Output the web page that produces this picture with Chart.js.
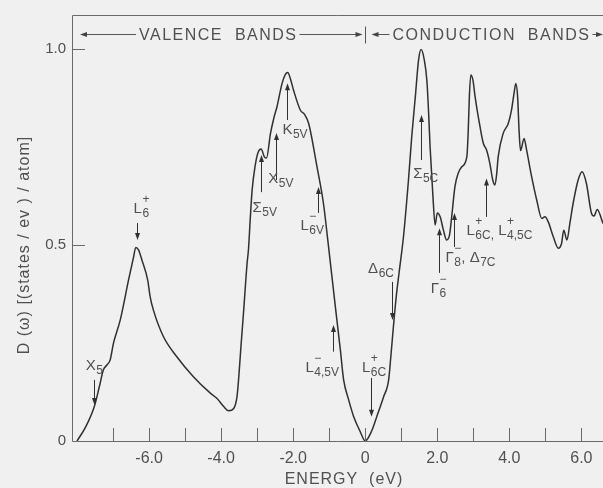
<!DOCTYPE html>
<html>
<head>
<meta charset="utf-8">
<script src="https://cdn.jsdelivr.net/npm/chart.js@4.4.1/dist/chart.umd.min.js"></script>
<style>
    html, body { margin: 0; padding: 0; background: #f0f0f0; overflow: hidden; }
    canvas { display: block; }
</style>
</head>
<body>
<canvas id="dos" width="603" height="488"></canvas>
<script>
// ── Data: density of states vs energy (eV) ──
const energy = [
    -8.00, -7.76, -7.52, -7.38, -7.27, -7.17, -7.08, -6.99, -6.80, -6.57, -6.43, -6.37,
    -6.29, -6.20, -6.04, -5.97, -5.88, -5.60, -5.23, -4.77, -4.30, -4.12, -3.93, -3.79,
    -3.65, -3.56, -3.51, -3.45, -3.38, -3.28, -3.24, -3.19, -3.14, -3.06, -2.98, -2.89,
    -2.80, -2.74, -2.63, -2.54, -2.45, -2.31, -2.22, -2.15, -2.08, -1.99, -1.80, -1.68,
    -1.57, -1.34, -1.16, -1.04, -0.83, -0.69, -0.60, -0.46, -0.32, -0.14, 0.00,
    0.19, 0.32, 0.51, 0.65, 0.71, 0.79, 0.86, 0.94, 1.06, 1.20, 1.29, 1.39, 1.48, 1.55,
    1.64, 1.71, 1.76, 1.80, 1.88, 1.94, 2.00, 2.08, 2.17, 2.26, 2.34, 2.40, 2.49, 2.58,
    2.68, 2.82, 2.86, 2.89, 2.93, 2.99, 3.05, 3.19, 3.28, 3.37, 3.46, 3.54, 3.60, 3.65,
    3.69, 3.83, 3.97, 4.06, 4.13, 4.18, 4.23, 4.27, 4.31, 4.41, 4.48, 4.62, 4.76, 4.90,
    4.99, 5.08, 5.22, 5.36, 5.45, 5.51, 5.60, 5.68, 5.77, 5.91, 6.02, 6.14, 6.28, 6.35,
    6.44, 6.60
];
const dos = [
    0.000, 0.036, 0.088, 0.139, 0.181, 0.194, 0.207, 0.249, 0.309, 0.411, 0.470, 0.494,
    0.487, 0.462, 0.411, 0.368, 0.334, 0.266, 0.215, 0.164, 0.122, 0.109, 0.088, 0.077,
    0.083, 0.113, 0.164, 0.241, 0.326, 0.453, 0.490, 0.570, 0.640, 0.700, 0.735, 0.745,
    0.725, 0.722, 0.785, 0.823, 0.853, 0.912, 0.935, 0.940, 0.925, 0.895, 0.844, 0.833,
    0.810, 0.700, 0.606, 0.513, 0.343, 0.232, 0.156, 0.105, 0.062, 0.024, 0.000,
    0.028, 0.062, 0.113, 0.156, 0.215, 0.300, 0.368, 0.430, 0.520, 0.666, 0.776, 0.878, 0.972, 0.999,
    0.972, 0.921, 0.836, 0.751, 0.623, 0.551, 0.582, 0.572, 0.538, 0.513, 0.526, 0.572, 0.649, 0.683,
    0.700, 0.725, 0.793, 0.878, 0.934, 0.921, 0.878, 0.800, 0.759, 0.742, 0.708, 0.666, 0.653, 0.683,
    0.725, 0.785, 0.810, 0.844, 0.887, 0.912, 0.878, 0.793, 0.741, 0.772, 0.742, 0.674, 0.615, 0.568,
    0.572, 0.559, 0.521, 0.492, 0.504, 0.538, 0.513, 0.555, 0.606, 0.666, 0.687, 0.657, 0.581, 0.574,
    0.591, 0.555
];

// ── Axis ticks ──
const xTickValues = [-6, -4, -2, 0, 2, 4, 6];
const xTickLabels = ['-6.0', '-4.0', '-2.0', '0', '2.0', '4.0', '6.0'];
const yTickValues = [0, 0.5, 1];
const yTickLabels = ['0', '0.5', '1.0'];
const firstMinorTick = -7;

// ── Critical point labels (data units) ──
// x: arrow position, from/to: arrow tail/head, lx/ly: label baseline start
const marks = [
    { x: -7.53, from: 0.156, to: 0.092, lx: -7.76, ly: 0.181, text: [['X', 'b'], ['5', 's']] },
    { x: -6.34, from: 0.556, to: 0.513, lx: -6.43, ly: 0.582, text: [['L', 'b'], ['+', 'p'], ['6', 's']] },
    { x: -2.88, from: 0.635, to: 0.730, lx: -3.13, ly: 0.584, text: [['Σ', 'b'], ['5V', 's']] },
    { x: -2.49, from: 0.666, to: 0.786, lx: -2.69, ly: 0.658, text: [['X', 'b'], ['5V', 's']] },
    { x: -2.16, from: 0.819, to: 0.913, lx: -2.30, ly: 0.783, text: [['K', 'b'], ['5V', 's']] },
    { x: -1.32, from: 0.582, to: 0.648, lx: -1.80, ly: 0.538, text: [['L', 'b'], ['−', 'p'], ['6V', 's']] },
    { x: -0.90, from: 0.228, to: 0.296, lx: -1.66, ly: 0.176, text: [['L', 'b'], ['−', 'p'], ['4,5V', 's']] },
    { x: 0.17, from: 0.161, to: 0.062, lx: -0.09, ly: 0.176, text: [['L', 'b'], ['+', 'p'], ['6C', 's']] },
    { x: 0.74, from: 0.406, to: 0.309, lx: 0.08, ly: 0.429, text: [['Δ', 'b'], ['6C', 's']] },
    { x: 1.54, from: 0.717, to: 0.832, lx: 1.33, ly: 0.671, text: [['Σ', 'b'], ['5C', 's']] },
    { x: 2.04, from: 0.429, to: 0.543, lx: 1.82, ly: 0.378, text: [['Γ', 'b'], ['−', 'p'], ['6', 's']] },
    { x: 2.47, from: 0.495, to: 0.582, lx: 2.23, ly: 0.457, text: [['Γ', 'b'], ['−', 'p'], ['8', 's'], [', Δ', 'b'], ['7C', 's']] },
    { x: 3.35, from: 0.572, to: 0.670, lx: 2.81, ly: 0.526, text: [['L', 'b'], ['+', 'p'], ['6C,', 's'], [' L', 'b'], ['+', 'p'], ['4,5C', 's']] }
];

// ── Band headers ──
const valenceLabel = 'VALENCE  BANDS';
const conductionLabel = 'CONDUCTION  BANDS';
const headerY = 1.038;

const INK = '#303030';
const TEXT = '#505050';
const FONT = "'Liberation Sans', Arial, sans-serif";

// ── Drawing helpers ──
function arrow(ctx, x, y1, y2) {
    const dir = y2 > y1 ? 1 : -1;
    ctx.beginPath();
    ctx.moveTo(x, y1);
    ctx.lineTo(x, y2 - dir * 5);
    ctx.stroke();
    ctx.beginPath();
    ctx.moveTo(x, y2);
    ctx.lineTo(x - 2.5, y2 - dir * 7);
    ctx.lineTo(x + 2.5, y2 - dir * 7);
    ctx.closePath();
    ctx.fill();
}

function hArrow(ctx, x1, x2, y) {
    const dir = x2 > x1 ? 1 : -1;
    ctx.beginPath();
    ctx.moveTo(x1, y);
    ctx.lineTo(x2 - dir * 5, y);
    ctx.stroke();
    ctx.beginPath();
    ctx.moveTo(x2, y);
    ctx.lineTo(x2 - dir * 7, y - 2.5);
    ctx.lineTo(x2 - dir * 7, y + 2.5);
    ctx.closePath();
    ctx.fill();
}

function richText(ctx, x, y, parts) {
    let cx = x;
    let pending = 0;
    parts.forEach(([t, kind]) => {
        if (kind === 'b') {
            cx += pending;
            pending = 0;
            ctx.font = `15px ${FONT}`;
            ctx.fillText(t, cx, y);
            cx += ctx.measureText(t).width;
        } else if (kind === 'p') {
            ctx.font = `12px ${FONT}`;
            ctx.fillText(t, cx + 0.5, y - 10);
            pending = Math.max(pending, ctx.measureText(t).width);
        } else {
            ctx.font = `12px ${FONT}`;
            ctx.fillText(t, cx + 0.5, y + 4);
            cx += Math.max(ctx.measureText(t).width, pending) + 0.5;
            pending = 0;
        }
    });
}

// ── Plugin: frame, inner ticks, labels ──
const decorations = {
    id: 'decorations',
    afterDatasetsDraw(chart) {
        const { ctx, chartArea: area, scales: { x, y } } = chart;
        ctx.save();
        ctx.strokeStyle = '#6a6a6a';
        ctx.lineWidth = 1;

        // frame
        ctx.beginPath();
        ctx.moveTo(area.right, area.top + 0.5);
        ctx.lineTo(area.left + 0.5, area.top + 0.5);
        ctx.lineTo(area.left + 0.5, area.bottom + 0.5);
        ctx.lineTo(area.right, area.bottom + 0.5);
        ctx.stroke();

        // inner tick marks
        ctx.beginPath();
        x.ticks.forEach(t => {
            if (t.value < firstMinorTick) return;
            const px = Math.round(x.getPixelForValue(t.value)) + 0.5;
            ctx.moveTo(px, area.bottom);
            ctx.lineTo(px, area.bottom - 13);
        });
        yTickValues.forEach(v => {
            if (v === 0) return;
            const py = Math.round(y.getPixelForValue(v)) + 0.5;
            ctx.moveTo(area.left, py);
            ctx.lineTo(area.left + 13, py);
        });
        ctx.stroke();

        // critical point arrows and labels
        ctx.strokeStyle = INK;
        ctx.fillStyle = INK;
        marks.forEach(m => {
            const px = Math.round(x.getPixelForValue(m.x)) + 0.5;
            arrow(ctx, px, y.getPixelForValue(m.from), y.getPixelForValue(m.to));
        });
        ctx.fillStyle = TEXT;
        ctx.textBaseline = 'alphabetic';
        ctx.textAlign = 'left';
        marks.forEach(m => {
            richText(ctx, x.getPixelForValue(m.lx), y.getPixelForValue(m.ly), m.text);
        });

        // band headers
        const hy = Math.round(y.getPixelForValue(headerY)) + 0.5;
        const zero = Math.round(x.getPixelForValue(0)) + 0.5;
        ctx.font = `16px ${FONT}`;
        ctx.letterSpacing = '1.5px';
        ctx.textBaseline = 'middle';
        ctx.textAlign = 'left';
        const vw = ctx.measureText(valenceLabel).width;
        const cw = ctx.measureText(conductionLabel).width;
        const vStart = area.left + 67;
        const cStart = zero + 27;
        ctx.fillText(valenceLabel, vStart, hy + 1);
        ctx.fillText(conductionLabel, cStart, hy + 1);
        ctx.letterSpacing = '0px';
        ctx.strokeStyle = '#555';
        ctx.fillStyle = '#444';
        hArrow(ctx, vStart - 3, area.left + 8, hy);
        hArrow(ctx, vStart + vw + 2, zero - 3, hy);
        hArrow(ctx, cStart - 3, zero + 6, hy);
        hArrow(ctx, cStart + cw + 2, area.right, hy);
        ctx.beginPath();
        ctx.moveTo(zero, hy - 8);
        ctx.lineTo(zero, hy + 9);
        ctx.stroke();

        // axis titles
        ctx.fillStyle = TEXT;
        ctx.letterSpacing = '1px';
        ctx.textAlign = 'center';
        ctx.textBaseline = 'middle';
        ctx.font = `16px ${FONT}`;
        ctx.fillText('ENERGY  (eV)', 344, 480);
        ctx.translate(25, 245);
        ctx.rotate(-Math.PI / 2);
        ctx.fillText('D (ω) [(states / ev ) / atom]', 0, 0);
        ctx.restore();
    }
};

// ── Chart ──
const ctx = document.getElementById('dos');
new Chart(ctx, {
    type: 'line',
    data: {
        datasets: [{
            data: energy.map((e, i) => ({ x: e, y: dos[i] })),
            borderColor: INK,
            borderWidth: 1.5,
            pointRadius: 0,
            fill: false,
            cubicInterpolationMode: 'monotone'
        }]
    },
    options: {
        responsive: false,
        animation: false,
        devicePixelRatio: 1,
        layout: { padding: { top: 15, left: 0, right: 0, bottom: 0 } },
        plugins: {
            legend: { display: false },
            tooltip: { enabled: false }
        },
        scales: {
            x: {
                type: 'linear',
                min: -8.14,
                max: 6.6,
                grid: { display: false, drawTicks: false },
                border: { display: false },
                ticks: {
                    stepSize: 1,
                    includeBounds: false,
                    autoSkip: false,
                    maxRotation: 0,
                    padding: 8,
                    color: TEXT,
                    font: { size: 16, family: FONT },
                    callback: v => {
                        const i = xTickValues.indexOf(v);
                        return i >= 0 ? xTickLabels[i] : '';
                    }
                },
                afterFit: s => { s.height = 47; }
            },
            y: {
                min: 0,
                max: 1.087,
                grid: { display: false, drawTicks: false },
                border: { display: false },
                ticks: {
                    stepSize: 0.5,
                    includeBounds: false,
                    padding: 6,
                    color: TEXT,
                    font: { size: 15, family: FONT },
                    callback: v => {
                        const i = yTickValues.indexOf(v);
                        return i >= 0 ? yTickLabels[i] : '';
                    }
                },
                afterFit: s => { s.width = 72; }
            }
        }
    },
    plugins: [decorations]
});
</script>
</body>
</html>
